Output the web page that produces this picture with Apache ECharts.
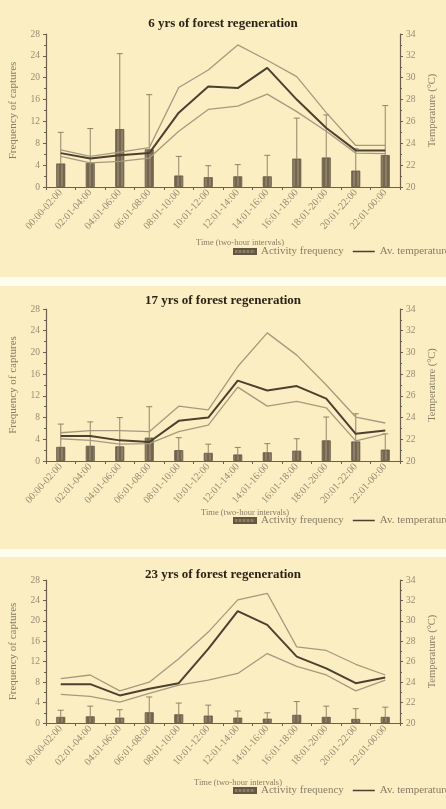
<!DOCTYPE html>
<html>
<head>
<meta charset="utf-8">
<script src="https://cdn.jsdelivr.net/npm/echarts@6/dist/echarts.min.js"></script>
<style>
  html, body { margin: 0; padding: 0; background: #fffcf0; }
  body { width: 446px; height: 809px; position: relative; overflow: hidden; }
  .panel { position: absolute; left: 0; width: 446px; background: #fbeec3; }
</style>
</head>
<body>
<div id="p1" class="panel" style="top:0;height:277px"></div>
<div id="p2" class="panel" style="top:286px;height:263px"></div>
<div id="p3" class="panel" style="top:557px;height:252px"></div>
<script>
// Two-hour time slots
const timeSlots = ['00:00-02:00', '02:01-04:00', '04:01-06:00', '06:01-08:00', '08:01-10:00', '10:01-12:00',
  '12:01-14:00', '14:01-16:00', '16:01-18:00', '18:01-20:00', '20:01-22:00', '22:01-00:00'];

// Axis ticks
const freqTicks = { min: 0, max: 28, step: 4 };
const tempTicks = { min: 20, max: 34, step: 2 };

// 6 years of regeneration
const freq6 = [4.3, 4.4, 10.6, 6.9, 2.1, 1.8, 1.95, 1.95, 5.2, 5.4, 3.0, 5.85];
const freqErr6 = [10.0, 10.7, 24.4, 16.9, 5.6, 3.9, 4.1, 5.8, 12.6, 13.2, 7.0, 14.9];
const tempMean6 = [23.1, 22.6, 22.9, 23.1, 26.8, 29.2, 29.05, 30.9, 28.0, 25.4, 23.35, 23.35];
const tempMax6 = [23.4, 22.8, 23.2, 23.6, 29.1, 30.7, 33.0, 31.6, 30.1, 26.8, 23.8, 23.8];
const tempMin6 = [22.8, 22.2, 22.35, 22.65, 25.1, 27.1, 27.4, 28.5, 26.9, 25.1, 23.1, 23.05];

// 17 years of regeneration
const freq17 = [2.6, 2.8, 2.7, 4.3, 2.0, 1.5, 1.2, 1.6, 1.9, 3.8, 3.6, 2.1];
const freqErr17 = [6.8, 7.2, 8.0, 10.0, 4.3, 3.1, 2.5, 3.2, 4.1, 8.1, 8.7, 5.0];
const tempMean17 = [22.3, 22.3, 21.9, 21.75, 23.7, 24.0, 27.4, 26.5, 26.9, 25.75, 22.5, 22.8];
const tempMax17 = [22.6, 22.8, 22.8, 22.7, 25.05, 24.7, 28.7, 31.8, 29.75, 27.0, 24.05, 23.5];
const tempMin17 = [22.05, 21.9, 21.55, 21.6, 22.7, 23.3, 26.8, 25.05, 25.5, 24.9, 21.85, 22.5];

// 23 years of regeneration
const freq23 = [1.2, 1.3, 1.05, 2.1, 1.7, 1.45, 1.05, 0.85, 1.6, 1.2, 0.8, 1.2];
const freqErr23 = [2.5, 3.3, 2.6, 5.1, 3.9, 3.5, 2.35, 2.0, 4.2, 3.3, 2.8, 3.1];
const tempMean23 = [23.8, 23.8, 22.7, 23.35, 23.9, 27.25, 30.95, 29.6, 26.5, 25.35, 23.9, 24.45];
const tempMax23 = [24.35, 24.7, 23.15, 24.0, 26.3, 28.9, 32.05, 32.7, 27.45, 27.1, 25.75, 24.7];
const tempMin23 = [22.8, 22.6, 22.05, 22.9, 23.7, 24.2, 24.85, 26.8, 25.55, 24.7, 23.15, 24.2];

const panelTitles = ['6 yrs of forest regeneration', '17 yrs of forest regeneration', '23 yrs of forest regeneration'];
const xName = 'Time (two-hour intervals)';
const yNameLeft = 'Frequency of captures';
const yNameRight = 'Temperature (°C)';
const legendBar = 'Activity frequency';
const legendLine = 'Av. temperature';

const FONT = 'Liberation Serif';
const AXIS_COLOR = '#6a604b';
const LABEL_COLOR = '#978c73';
const NAME_COLOR = '#877d65';

// Thin horizontal stroke used as the legend key of the temperature line (22 x 5 box)
const LINE_KEY = 'path://M0,0h0.01v0.01h-0.01z M0,1.8h22v1.4h-22z M21.99,4.99h0.01v0.01h-0.01z';

// Striped fill for the bars
function barPattern() {
  const c = document.createElement('canvas');
  c.width = 4; c.height = 4;
  const g = c.getContext('2d');
  g.fillStyle = '#736650'; g.fillRect(0, 0, 4, 4);
  g.fillStyle = '#8c7f65'; g.fillRect(1, 0, 2, 4);
  return c;
}

const layouts = [
  { el: 'p1', titleTop: 12, grid: { top: 34, bottom: 90, left: 32, right: 39 }, xNamePos: [240, 243], legendTop: 246 },
  { el: 'p2', titleTop: 3, grid: { top: 23, bottom: 88, left: 32, right: 37 }, xNamePos: [245, 227], legendTop: 229 },
  { el: 'p3', titleTop: 6, grid: { top: 23, bottom: 86, left: 32, right: 38 }, xNamePos: [238, 226], legendTop: 228 }
];

const panels = [
  { freq: freq6, err: freqErr6, mean: tempMean6, max: tempMax6, min: tempMin6 },
  { freq: freq17, err: freqErr17, mean: tempMean17, max: tempMax17, min: tempMin17 },
  { freq: freq23, err: freqErr23, mean: tempMean23, max: tempMax23, min: tempMin23 }
];

const pattern = barPattern();

panels.forEach(function (d, k) {
  const L = layouts[k];
  const chart = echarts.init(document.getElementById(L.el), null, { renderer: 'canvas' });
  const errData = d.freq.map(function (v, i) { return [i, v, d.err[i]]; });
  const option = {
    backgroundColor: 'transparent',
    animation: false,
    textStyle: { fontFamily: FONT },
    title: {
      text: panelTitles[k], left: 'center', top: L.titleTop,
      textStyle: { fontFamily: FONT, fontSize: 13, fontWeight: 'bold', color: '#2b2416' }
    },
    legend: {
      left: 233, top: L.legendTop, width: 400, itemWidth: 22, itemHeight: 5, itemGap: 9,
      padding: 0,
      textStyle: { fontFamily: FONT, fontSize: 11, color: NAME_COLOR },
      data: [
        { name: legendBar, icon: 'rect' },
        { name: legendLine, icon: LINE_KEY }
      ]
    },
    graphic: [{
      type: 'text', x: L.xNamePos[0], y: L.xNamePos[1],
      style: { text: xName, fontFamily: FONT, fontSize: 8.5, fill: NAME_COLOR, align: 'center', verticalAlign: 'middle' }
    }],
    grid: L.grid,
    xAxis: {
      type: 'category', data: timeSlots, boundaryGap: true,
      axisLine: { lineStyle: { color: AXIS_COLOR, width: 1.2 } },
      axisTick: { show: true, length: 3, lineStyle: { color: AXIS_COLOR } },
      axisLabel: { rotate: 48, interval: 0, margin: 4, fontSize: 10.2, fontFamily: FONT, color: LABEL_COLOR }
    },
    yAxis: [{
      type: 'value', min: freqTicks.min, max: freqTicks.max, interval: freqTicks.step,
      name: yNameLeft, nameLocation: 'middle', nameGap: 27,
      nameTextStyle: { fontFamily: FONT, fontSize: 11, color: NAME_COLOR },
      splitLine: { show: false },
      axisLine: { show: true, lineStyle: { color: AXIS_COLOR, width: 1.2 } },
      axisTick: { show: true, length: 3, lineStyle: { color: AXIS_COLOR } },
      minorTick: { show: true, splitNumber: 2, length: 2, lineStyle: { color: AXIS_COLOR } },
      axisLabel: { fontSize: 9.5, fontFamily: FONT, color: LABEL_COLOR, margin: 6 }
    }, {
      type: 'value', min: tempTicks.min, max: tempTicks.max, interval: tempTicks.step, position: 'right',
      name: yNameRight, nameLocation: 'middle', nameGap: 27,
      nameTextStyle: { fontFamily: FONT, fontSize: 10.5, color: NAME_COLOR },
      splitLine: { show: false },
      axisLine: { show: true, lineStyle: { color: AXIS_COLOR, width: 1.2 } },
      axisTick: { show: true, length: 3, lineStyle: { color: AXIS_COLOR } },
      minorTick: { show: true, splitNumber: 2, length: 2, lineStyle: { color: AXIS_COLOR } },
      axisLabel: { fontSize: 9.5, fontFamily: FONT, color: LABEL_COLOR, margin: 6 }
    }],
    series: [
      {
        name: legendBar, type: 'bar', data: d.freq, barWidth: 9, z: 2,
        itemStyle: { color: { image: pattern, repetition: 'repeat' }, borderColor: '#625741', borderWidth: 0.8 }
      },
      {
        type: 'custom', data: errData, z: 3, silent: true,
        encode: { x: 0, y: [1, 2] },
        renderItem: function (params, api) {
          const base = api.coord([api.value(0), api.value(1)]);
          const top = api.coord([api.value(0), api.value(2)]);
          const half = 3;
          const st = { stroke: '#85795f', lineWidth: 0.9 };
          return {
            type: 'group',
            children: [
              { type: 'line', shape: { x1: base[0], y1: base[1], x2: top[0], y2: top[1] }, style: st },
              { type: 'line', shape: { x1: top[0] - half, y1: top[1], x2: top[0] + half, y2: top[1] }, style: st }
            ]
          };
        }
      },
      {
        type: 'line', yAxisIndex: 1, data: d.max, symbol: 'none', z: 4,
        lineStyle: { color: '#a59a80', width: 1.3 }
      },
      {
        type: 'line', yAxisIndex: 1, data: d.min, symbol: 'none', z: 4,
        lineStyle: { color: '#a59a80', width: 1.3 }
      },
      {
        name: legendLine, type: 'line', yAxisIndex: 1, data: d.mean, symbol: 'none', z: 5,
        itemStyle: { color: '#4a4130' },
        lineStyle: { color: '#4a4130', width: 2 }
      }
    ]
  };
  chart.setOption(option);
});
</script>
</body>
</html>
